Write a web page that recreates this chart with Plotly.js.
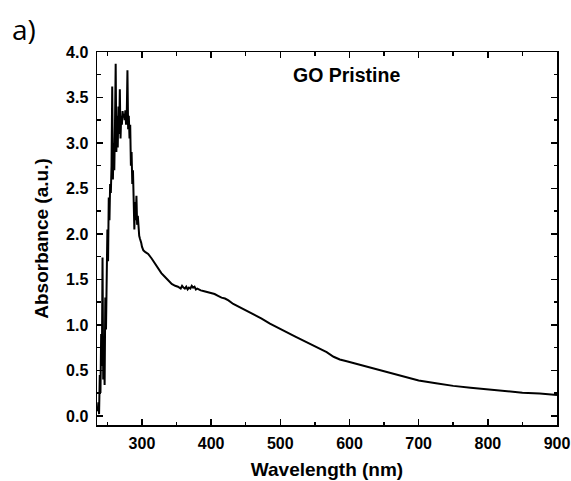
<!DOCTYPE html>
<html>
<head>
<meta charset="utf-8">
<script src="https://cdn.plot.ly/plotly-3.0.1.min.js"></script>
<style>
  html, body { margin: 0; padding: 0; background: #fff; }
  #chart { width: 571px; height: 481px; }
</style>
</head>
<body>
<div id="chart"></div>
<script>
// Wavelength (nm)
const wavelength = [
  236,237,238,239,240,241,242,243,244,245,246,247,248,249,250,251,252,253,254,255,
  256,257,258,259,260,261,262,263,264,265,266,267,268,269,270,271,272,273,274,275,
  276,277,278,279,280,281,282,283,284,285,286,287,288,289,290,291,292,293,294,295,
  296,297,298,299,300,302,305,309,314,318,323,328,333,338,343,348,352,356,358,360,
  362,364,366,368,370,372,374,376,378,380,385,390,395,400,405,410,415,420,425,432,
  440,450,461,473,485,497,509,521,533,545,557,567,577,586,596,606,615,630,650,675,
  700,725,750,775,800,825,850,875,900
];
// Absorbance (a.u.)
const absorbance = [
  0.05,0.15,0.02,0.45,0.25,0.90,0.55,1.74,0.40,0.70,0.34,1.30,0.95,1.45,2.05,1.70,2.40,2.15,2.55,2.45,
  2.75,3.62,2.60,3.00,2.70,3.20,3.87,2.90,3.30,2.95,3.40,3.10,3.59,3.05,3.30,3.20,3.35,3.28,3.32,3.25,
  3.36,3.20,3.30,3.80,3.15,3.30,3.05,3.20,2.75,2.90,2.55,2.70,2.20,2.05,2.35,2.15,2.42,2.10,2.20,2.02,
  1.98,1.95,1.93,1.90,1.86,1.82,1.80,1.78,1.73,1.68,1.62,1.57,1.53,1.49,1.45,1.43,1.42,1.40,1.43,1.41,
  1.40,1.42,1.39,1.41,1.40,1.43,1.41,1.42,1.39,1.40,1.38,1.37,1.36,1.35,1.34,1.32,1.30,1.29,1.27,1.23,
  1.20,1.16,1.12,1.07,1.015,0.965,0.92,0.875,0.83,0.785,0.74,0.70,0.65,0.62,0.60,0.58,0.56,0.53,0.49,0.44,
  0.39,0.36,0.33,0.31,0.29,0.27,0.255,0.245,0.23
];
const xTickVals = [300,400,500,600,700,800,900];
const yTickVals = [0.0,0.5,1.0,1.5,2.0,2.5,3.0,3.5,4.0];
const yTickText = ['0.0','0.5','1.0','1.5','2.0','2.5','3.0','3.5','4.0'];
const sampleLabel = 'GO Pristine';
const panelLabel = 'a)';

const boldFont = {family: 'Liberation Sans, Arial, sans-serif', color: '#000', weight: 'bold'};

const trace = {
  x: wavelength, y: absorbance, type: 'scatter', mode: 'lines',
  line: {color: '#000', width: 2}, hoverinfo: 'skip', showlegend: false
};

const axisCommon = {
  showline: true, mirror: 'allticks', linecolor: '#000', linewidth: 1.5,
  ticks: 'inside', ticklen: 6, tickwidth: 1.5, tickcolor: '#000',
  showgrid: false, zeroline: false,
  tickfont: Object.assign({size: 16}, boldFont)
};

const layout = {
  width: 571, height: 481,
  margin: {l: 97, r: 14, t: 52, b: 56},
  paper_bgcolor: '#fff', plot_bgcolor: '#fff',
  xaxis: Object.assign({}, axisCommon, {
    range: [235, 900],
    tickvals: xTickVals,
    minor: {dtick: 50, tick0: 0, ticks: 'inside', ticklen: 3.5, tickwidth: 1.5, tickcolor: '#000', showgrid: false},
    ticklabelstandoff: 3,
    title: {text: 'Wavelength (nm)', font: Object.assign({size: 19}, boldFont), standoff: 12}
  }),
  yaxis: Object.assign({}, axisCommon, {
    range: [-0.1, 4.0],
    tickvals: yTickVals, ticktext: yTickText,
    minor: {dtick: 0.25, tick0: 0, ticks: 'inside', ticklen: 3.5, tickwidth: 1.5, tickcolor: '#000', showgrid: false},
    ticklabelstandoff: 4,
    title: {text: 'Absorbance (a.u.)', font: Object.assign({size: 19}, boldFont), standoff: 12}
  }),
  annotations: [
    {text: sampleLabel, x: 595, y: 3.75, xref: 'x', yref: 'y', showarrow: false,
     font: Object.assign({size: 19.5}, boldFont)},
    {text: panelLabel, xref: 'paper', yref: 'paper', x: (24 - 97) / 460, y: 1 + (52 - 29) / 373,
     xanchor: 'center', yanchor: 'middle', showarrow: false,
     font: {family: 'Open Sans, Noto Sans, sans-serif', size: 28, color: '#000'}}
  ]
};

Plotly.newPlot('chart', [trace], layout, {displayModeBar: false, staticPlot: true});
</script>
</body>
</html>
